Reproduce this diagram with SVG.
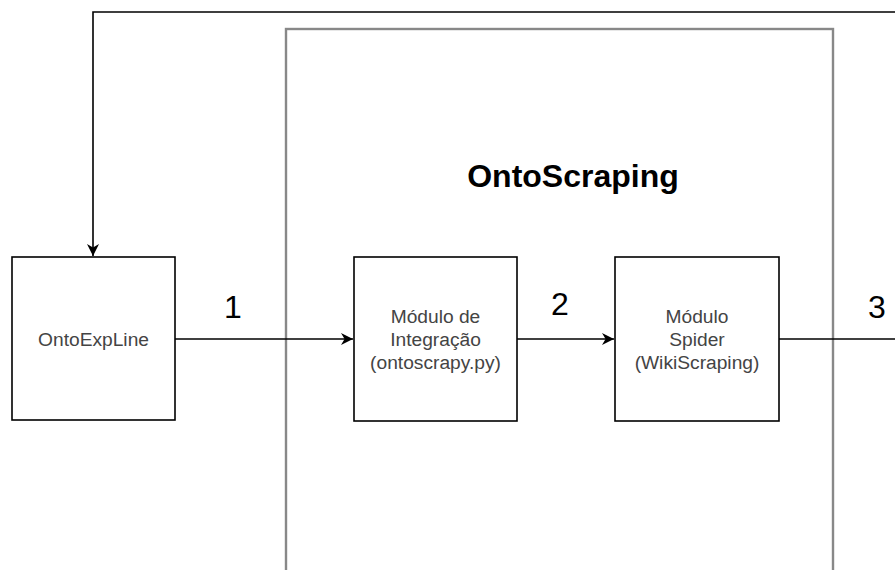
<svg xmlns="http://www.w3.org/2000/svg" width="895" height="570" viewBox="0 0 895 570">
  <style>
    .box { fill: #ffffff; stroke: #000000; stroke-width: 1.6; }
    .container { fill: #ffffff; stroke: #888888; stroke-width: 2.4; }
    .edge { fill: none; stroke: #000000; stroke-width: 1.6; }
    .label { font-family: "Liberation Sans", Arial, sans-serif; font-size: 19.2px; fill: #444444; text-anchor: middle; }
    .num { font-family: "Liberation Sans", Arial, sans-serif; font-size: 32px; fill: #000000; text-anchor: middle; }
    .title { font-family: "Liberation Sans", Arial, sans-serif; font-size: 32px; font-weight: bold; fill: #000000; text-anchor: middle; }
  </style>
  <defs>
    <marker id="arrow" viewBox="0 0 10 10" refX="10" refY="5" markerWidth="12" markerHeight="12" markerUnits="userSpaceOnUse" orient="auto">
      <path d="M0,0 L10,5 L0,10 L3,5 Z" fill="#000000"/>
    </marker>
  </defs>
  <rect width="895" height="570" fill="#ffffff"/>

  <!-- OntoScraping container -->
  <g id="ontoscraping">
    <rect class="container" x="286" y="29" width="547" height="560"/>
    <text class="title" x="573" y="187">OntoScraping</text>
  </g>

  <!-- connectors -->
  <g id="connectors">
    <path class="edge" d="M895,12 H93 V256" marker-end="url(#arrow)"/>
    <path class="edge" d="M175,339 H353" marker-end="url(#arrow)"/>
    <path class="edge" d="M517,339 H614" marker-end="url(#arrow)"/>
    <path class="edge" d="M779,339 H895"/>
    <text class="num" x="233" y="318">1</text>
    <text class="num" x="560" y="315">2</text>
    <text class="num" x="877" y="318">3</text>
  </g>

  <g id="ontoexpline">
    <rect class="box" x="12" y="257" width="163" height="163"/>
    <text class="label" x="93.5" y="346">OntoExpLine</text>
  </g>

  <g id="modulo-integracao">
    <rect class="box" x="354" y="257" width="163" height="164"/>
    <text class="label" x="435.5" y="323">Módulo de</text>
    <text class="label" x="435.5" y="346">Integração</text>
    <text class="label" x="435.5" y="369">(ontoscrapy.py)</text>
  </g>

  <g id="modulo-spider">
    <rect class="box" x="615" y="257" width="164" height="164"/>
    <text class="label" x="697" y="323">Módulo</text>
    <text class="label" x="697" y="346">Spider</text>
    <text class="label" x="697" y="369">(WikiScraping)</text>
  </g>
</svg>
